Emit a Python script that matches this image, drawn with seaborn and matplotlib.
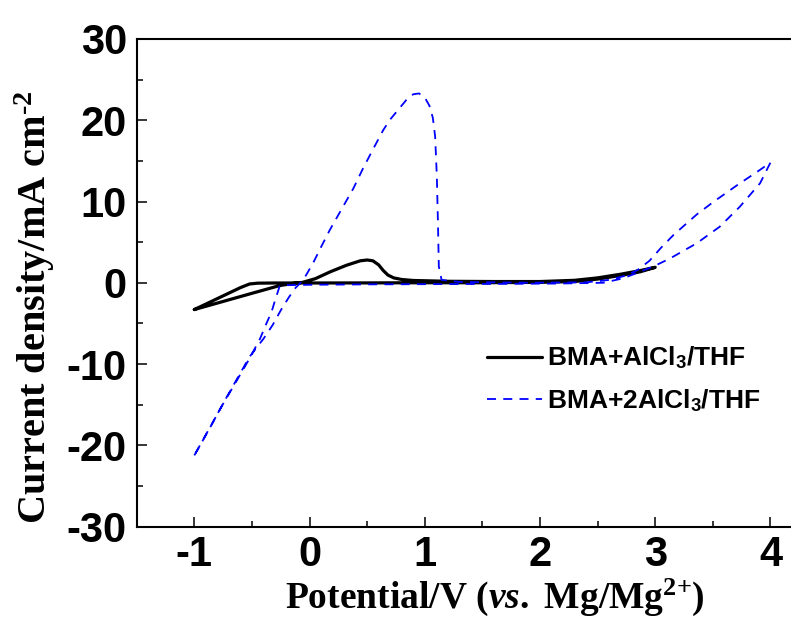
import numpy as np
import pandas as pd
import matplotlib
matplotlib.use("Agg")
import matplotlib.pyplot as plt
import seaborn as sns
from matplotlib.ticker import MultipleLocator

# CV of BMA+AlCl3/THF (black, solid): forward scan then return scan
v_1al = [-1.0, -0.75, -0.5, -0.26, -0.15, -0.06, 0.05, 0.18, 0.32, 0.44, 0.5, 0.55,
         0.6, 0.64, 0.68, 0.73, 0.8, 0.9, 1.2, 1.6, 2.0, 2.3, 2.5, 2.7, 2.87, 3.0,
         2.87, 2.7, 2.5, 2.3, 2.0, 1.5, 1.0, 0.5, 0.0, -0.3, -0.45, -0.52, -0.6, -0.8, -1.0]
j_1al = [-3.3, -2.3, -1.3, -0.35, -0.1, 0.05, 0.5, 1.35, 2.15, 2.7, 2.8, 2.7,
         2.2, 1.5, 0.95, 0.6, 0.4, 0.28, 0.18, 0.15, 0.15, 0.3, 0.6, 1.05, 1.5, 1.9,
         1.35, 0.9, 0.45, 0.15, 0.05, 0.0, 0.0, -0.02, -0.03, -0.03, -0.05, -0.15, -0.6, -1.95, -3.3]

# CV of BMA+2AlCl3/THF (blue, dashed)
v_2al = [-1.0, -0.87, -0.74, -0.62, -0.52, -0.40, -0.32, -0.25, -0.18, -0.12, -0.055, 0.03,
         0.1, 0.176, 0.26, 0.38, 0.465, 0.55, 0.64, 0.7, 0.77, 0.84, 0.9, 0.95, 1.0,
         1.04, 1.07, 1.09, 1.105, 1.115, 1.122, 1.146, 1.3, 1.9, 2.4, 2.6, 2.75, 2.85,
         2.95, 3.05, 3.16, 3.36, 3.5, 3.71, 3.91, 4.0,
         3.91, 3.735, 3.56, 3.36, 3.13, 3.01, 2.87, 2.72, 2.55, 2.15, 1.5, 0.5,
         0.0, -0.2, -0.26, -0.30, -0.33, -0.38, -0.43, -0.52, -0.63, -0.75, -0.88, -1.0]
j_2al = [-21.25, -18.0, -14.6, -11.6, -9.1, -6.9, -5.2, -3.4, -1.8, -0.6, 0.33, 2.4,
         4.4, 6.5, 8.6, 11.6, 14.1, 16.4, 18.8, 20.1, 21.3, 22.5, 23.2, 23.3, 22.8,
         21.8, 20.3, 18.0, 13.0, 7.0, 2.0, 0.35, 0.1, 0.0, 0.05, 0.35, 0.9, 1.6,
         2.7, 4.3, 5.9, 8.4, 9.9, 12.0, 13.9, 14.8,
         12.25, 9.37, 6.9, 4.86, 3.0, 2.18, 1.36, 0.54, 0.0, -0.1, -0.15, -0.2,
         -0.25, -0.3, -0.45, -2.2, -3.6, -5.2, -6.9, -9.3, -12.0, -14.9, -18.2, -21.25]

labels = [r"BMA+AlCl$_{\mathregular{3}}$/THF", r"BMA+2AlCl$_{\mathregular{3}}$/THF"]

df1 = pd.DataFrame({"v": v_1al, "j": j_1al})
df2 = pd.DataFrame({"v": v_2al, "j": j_2al})

sns.set_style("ticks")
plt.rcParams["font.family"] = ["Liberation Sans", "DejaVu Sans"]
plt.rcParams["font.weight"] = "bold"
plt.rcParams["axes.unicode_minus"] = False
plt.rcParams["mathtext.fontset"] = "custom"
plt.rcParams["mathtext.it"] = "Liberation Serif:italic:bold"
plt.rcParams["mathtext.rm"] = "Liberation Serif:bold"
for k in ["text.color", "axes.labelcolor", "xtick.color", "ytick.color", "axes.edgecolor"]:
    plt.rcParams[k] = "black"

fig = plt.figure(figsize=(7.91, 6.26), dpi=100)
ax = fig.add_axes([136.7 / 791, 99.5 / 626, 656.8 / 791, 487.5 / 626])

sns.lineplot(data=df1, x="v", y="j", sort=False, estimator=None, color="black",
             linewidth=2.3, label=labels[0], ax=ax)
sns.lineplot(data=df2, x="v", y="j", sort=False, estimator=None, color="#0000ff",
             linewidth=1.3, label=labels[1], ax=ax)
ax.lines[1].set_dashes((5, 4))

ax.set_xlim(-1.5, 4.2)
ax.set_ylim(-30, 30)
ax.xaxis.set_major_locator(MultipleLocator(1))
ax.xaxis.set_minor_locator(MultipleLocator(0.5))
ax.yaxis.set_major_locator(MultipleLocator(10))
ax.yaxis.set_minor_locator(MultipleLocator(5))
ax.tick_params(which="both", direction="in", width=1.1, top=False, right=False)
ax.tick_params(which="major", length=7.5, labelsize=30, pad=6)
ax.tick_params(which="minor", length=4)
ax.tick_params(axis="y", which="major", pad=7)
for s in ax.spines.values():
    s.set_linewidth(1.5)
ax.spines["right"].set_visible(False)

ax.set_xlabel(r"Potential/V ($\mathit{vs.}$ Mg/Mg$^{\mathregular{2{+}}}$)",
              fontfamily="Liberation Serif", fontweight="bold", fontsize=27)
ax.set_ylabel(r"Current density/mA cm$^{\text{-2}}$",
              fontfamily="Liberation Serif", fontweight="bold", fontsize=29)
ax.xaxis.set_label_coords(0.545, -0.103)
ax.yaxis.set_label_coords(-0.121, 0.45)

leg = ax.legend(loc="center left", bbox_to_anchor=(0.533, 0.302), frameon=False,
                prop={"family": "Liberation Sans", "weight": "bold", "size": 19},
                handlelength=2.1, handletextpad=0.2, labelspacing=0.6,
                borderpad=0, borderaxespad=0)

fig.savefig("out.png", dpi=100)
